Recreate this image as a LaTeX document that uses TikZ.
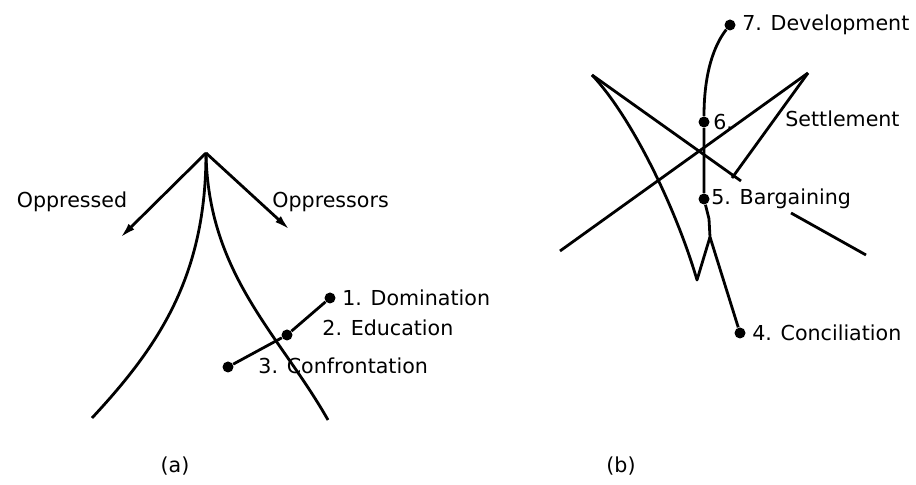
\documentclass[tikz,border=0pt]{standalone}
\usepackage{fontspec}
\setmainfont{DejaVu Sans}
\usetikzlibrary{positioning, arrows.meta}
\tikzset{dot/.style={circle, fill, inner sep=0pt, minimum size=5.5pt},
lbl/.style={inner sep=0pt, font=\fontsize{10.3}{12}\selectfont},
line/.style={line width=1.4pt, line join=round},
arrow/.style={line, -{Latex[length=8pt,width=4pt]}}
}
\begin{document}
\begin{tikzpicture}[x=0.5pt, y=0.5pt]
\useasboundingbox (0,0) rectangle (916,485);
% (a): the two paths split at the apex
\coordinate (apex) at (206,332);
\coordinate (oL) at (120,247);
\coordinate (oR) at (290,255);
\coordinate (footL) at (92,67);
\coordinate (footR) at (328,65);
\draw[arrow] (apex) -- (oL);
\draw[arrow] (apex) -- (oR);
\draw[line] (apex) .. controls (206,210) and (160,140) .. (footL);
\draw[line] (apex) .. controls (208,210) and (280,150) .. (footR);
\node[lbl] (opd) at (72,283) {Oppressed};
\node[lbl, anchor=west] (ops) at (272,283) {Oppressors};
\node[dot] (dom) at (330,187) {};
\node[dot] (edu) at (287,150) {};
\node[dot] (con) at (228,118) {};
\draw[line] (con) -- (edu) -- (dom);
\node[lbl, right=3pt of dom] (domL) {1. Domination};
\node[lbl, anchor=west] (eduL) at (322,157) {2. Education};
\node[lbl, anchor=west] (conL) at (258,119) {3. Confrontation};
\node[lbl] (capA) at (175,19) {(a)};
% (b): the crossing lines and the stages
\coordinate (tl) at (592,410);
\coordinate (tr) at (808,412);
\coordinate (bl) at (560,234);
\coordinate (tip) at (741,304);
\coordinate (tick) at (732,307);
\coordinate (vee) at (697,205);
\coordinate (join) at (710,248);
\coordinate (hook) at (709,266);
\coordinate (sA) at (791,272);
\coordinate (sB) at (866,230);
\node[dot] (dev) at (730,460) {};
\node[dot] (set) at (704,363) {};
\node[dot] (bar) at (704,286) {};
\node[dot] (cil) at (740,152) {};
\draw[line] (tl) -- (tip);
\draw[line] (tr) -- (bl);
\draw[line] (tr) -- (tick);
\draw[line] (tl) .. controls (630,370) and (675,280) .. (vee) -- (join);
\draw[line] (cil) -- (join) -- (hook) -- (bar) -- (set) .. controls (704,420) and (718,445) .. (dev);
\draw[line] (sA) -- (sB);
\node[lbl, right=3pt of dev] (devL) {7. Development};
\node[lbl, right=1.5pt of set] (setL) {6.};
\node[lbl, anchor=west] (setT) at (785,366) {Settlement};
\node[lbl, right=0.5pt of bar] (barL) {5. Bargaining};
\node[lbl, right=3pt of cil] (cilL) {4. Conciliation};
\node[lbl] (capB) at (621,19) {(b)};
\end{tikzpicture}
\end{document}
